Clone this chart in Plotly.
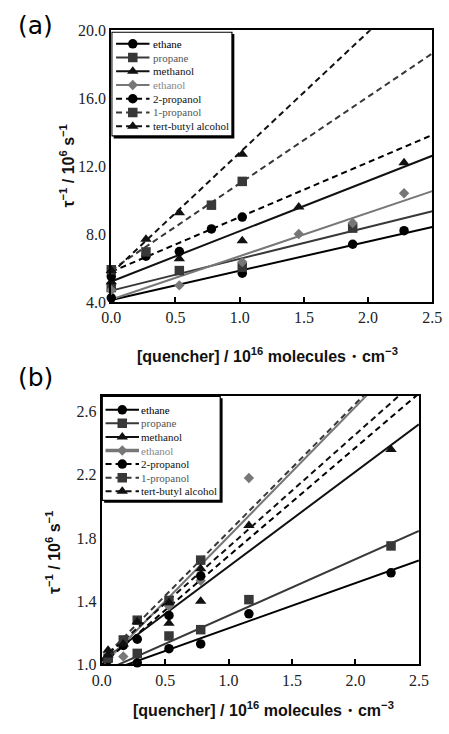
import plotly.graph_objects as go

# ---------------- shared series info ----------------
series = ["ethane", "propane", "methanol", "ethanol", "2-propanol", "1-propanol", "tert-butyl alcohol"]
symbols = ["circle", "square", "triangle-up", "diamond", "circle", "square", "triangle-up"]
colors = ["#000000", "#383838", "#111111", "#777777", "#000000", "#383838", "#111111"]
text_colors = ["#000000", "#555555", "#111111", "#888888", "#111111", "#555555", "#111111"]
dashes = ["solid", "solid", "solid", "solid", "6px,4px", "6px,4px", "6px,4px"]
msizes = [9.5, 9.5, 10, 8, 9.5, 9.5, 10]

# ---------------- panel (a) data ----------------
a_x = [
    [0.0, 1.02, 1.88, 2.28],
    [0.0, 0.53, 1.02, 1.88],
    [0.0, 0.53, 1.02, 1.46, 2.28],
    [0.0, 0.53, 1.02, 1.46, 1.88, 2.28],
    [0.0, 0.27, 0.53, 0.78, 1.02],
    [0.0, 0.27, 0.78, 1.02],
    [0.0, 0.27, 0.53, 1.02],
]
a_y = [
    [4.25, 5.7, 7.4, 8.2],
    [4.85, 5.85, 6.05, 8.35],
    [5.2, 6.55, 7.6, 9.6, 12.2],
    [4.7, 4.98, 6.35, 8.0, 8.65, 10.4],
    [5.5, 6.7, 6.97, 8.3, 9.0],
    [5.9, 6.95, 9.7, 11.1],
    [5.85, 7.7, 9.25, 12.7],
]
a_intercept = [4.12, 4.67, 5.21, 4.15, 5.78, 5.88, 5.69]
a_slope = [1.72, 1.87, 2.96, 2.55, 3.22, 5.10, 7.10]

# ---------------- panel (b) data ----------------
b_x = [
    [0.28, 0.53, 0.78, 1.16, 2.28],
    [0.28, 0.53, 0.78, 1.16, 2.28],
    [0.05, 0.53, 0.78, 2.28],
    [0.05, 0.17, 0.53, 0.78, 1.16],
    [0.05, 0.17, 0.28, 0.53, 0.78],
    [0.05, 0.17, 0.28, 0.53, 0.78],
    [0.05, 0.17, 0.28, 0.53, 0.78, 1.16],
]
b_y = [
    [1.01, 1.10, 1.13, 1.32, 1.58],
    [1.07, 1.18, 1.22, 1.41, 1.75],
    [1.09, 1.26, 1.40, 2.36],
    [1.02, 1.05, 1.37, 1.53, 2.18],
    [1.03, 1.12, 1.16, 1.31, 1.56],
    [1.04, 1.155, 1.28, 1.405, 1.66],
    [1.06, 1.13, 1.27, 1.39, 1.605, 1.88],
]
b_intercept = [0.942, 0.952, 1.02, 0.99, 1.0, 1.03, 1.03]
b_slope = [0.2866, 0.357, 0.60, 0.82, 0.686, 0.81, 0.713]

x_range = [0.0, 2.5]
a_yrange = [4.0, 20.0]
b_yrange = [1.0, 2.7]

W, H = 449, 734

def px_x(p):
    return p / W

def px_y(p):
    return 1 - p / H

fig = go.Figure()

def add_panel(xs, ys, icpt, slope, xa, ya):
    # fitted lines first
    for i in range(len(series)):
        fig.add_trace(go.Scatter(
            x=[x_range[0], x_range[1]],
            y=[icpt[i] + slope[i] * x_range[0], icpt[i] + slope[i] * x_range[1]],
            mode="lines", line=dict(color=colors[i], width=2, dash=dashes[i]),
            xaxis=xa, yaxis=ya, showlegend=False, hoverinfo="skip"))
    for i in range(len(series)):
        fig.add_trace(go.Scatter(
            x=xs[i], y=ys[i], mode="markers",
            marker=dict(symbol=symbols[i], size=msizes[i], color=colors[i], line=dict(width=0)),
            xaxis=xa, yaxis=ya, showlegend=False, name=series[i], cliponaxis=False))

add_panel(a_x, a_y, a_intercept, a_slope, "x", "y")
add_panel(b_x, b_y, b_intercept, b_slope, "x2", "y2")

# ---------------- custom legends (on helper axes measured in px) ----------------
def add_legend(xa, ya, box_w, box_h, row0, step, lx0, lx1, tx, thick_ethanol):
    fig.add_shape(type="rect", xref=xa, yref=ya, x0=2.5, x1=box_w + 2.5, y0=2.5, y1=box_h + 2.5,
                  fillcolor="#000000", line=dict(width=0), layer="below")
    fig.add_shape(type="rect", xref=xa, yref=ya, x0=0.6, x1=box_w, y0=0.6, y1=box_h,
                  fillcolor="#ffffff", line=dict(color="#000000", width=1.2), layer="below")
    for i in range(len(series)):
        yy = row0 + i * step
        lw = 3.5 if (thick_ethanol and series[i] == "ethanol") else 2
        fig.add_trace(go.Scatter(
            x=[lx0, lx1], y=[yy, yy], mode="lines",
            line=dict(color=colors[i], width=lw, dash=dashes[i]),
            xaxis=xa, yaxis=ya, showlegend=False, hoverinfo="skip"))
        fig.add_trace(go.Scatter(
            x=[(lx0 + lx1) / 2], y=[yy], mode="markers",
            marker=dict(symbol=symbols[i], size=msizes[i], color=colors[i], line=dict(width=0)),
            xaxis=xa, yaxis=ya, showlegend=False, hoverinfo="skip"))
        fig.add_annotation(x=tx, y=yy, xref=xa, yref=ya, text=series[i], showarrow=False,
                           xanchor="left", yanchor="middle",
                           font=dict(family="Liberation Serif, Times New Roman, serif", size=11,
                                     color=text_colors[i]))

add_legend("x3", "y3", 126.3, 107, 12.7, 14.05, 5, 40, 42, False)
add_legend("x4", "y4", 124, 107, 14.3, 13.9, 4, 39, 39.5, True)

tickfont = dict(family="Liberation Serif, Times New Roman, serif", size=16, color="#222222")
common_x = dict(range=x_range, dtick=0.5, tick0=0, tickformat=".1f", showline=True, mirror=True,
                linecolor="#000000", linewidth=2, ticks="inside", ticklen=5, tickwidth=1.5,
                tickcolor="#000000", showgrid=False, zeroline=False, tickfont=tickfont)
common_y = dict(showline=True, mirror=True, linecolor="#000000", linewidth=2, ticks="",
                showgrid=False, zeroline=False, tickfont=tickfont, tickformat=".1f")

fig.update_layout(
    width=W, height=H, margin=dict(l=0, r=0, t=0, b=0),
    paper_bgcolor="#ffffff", plot_bgcolor="rgba(0,0,0,0)",
    showlegend=False,
    xaxis=dict(domain=[px_x(106), px_x(442)], anchor="y", **common_x),
    yaxis=dict(domain=[px_y(301), px_y(22.7)], anchor="x", range=a_yrange, dtick=4, tick0=4, **common_y),
    xaxis2=dict(domain=[px_x(96), px_x(428)], anchor="y2", **common_x),
    yaxis2=dict(domain=[px_y(672), px_y(397)], anchor="x2", range=b_yrange, dtick=0.4, tick0=1.0, **common_y),
    xaxis3=dict(domain=[px_x(106), px_x(106 + 130)], anchor="y3", range=[0, 130], visible=False, fixedrange=True),
    yaxis3=dict(domain=[px_y(24 + 111), px_y(24)], anchor="x3", range=[111, 0], visible=False, fixedrange=True),
    xaxis4=dict(domain=[px_x(96), px_x(96 + 128)], anchor="y4", range=[0, 128], visible=False, fixedrange=True),
    yaxis4=dict(domain=[px_y(397 + 111), px_y(397)], anchor="x4", range=[111, 0], visible=False, fixedrange=True),
)

title_font = dict(family="Liberation Sans", size=16, color="#111111", weight="bold")
xtitle = "[quencher] / 10<sup>16</sup> molecules・cm<sup>−3</sup>"
ytitle = "τ<sup>−1</sup> / 10<sup>6</sup> s<sup>−1</sup>"

for (xc, yc, txt, ang) in [(270, 355, xtitle, 0), (60, 162, ytitle, -90),
                           (265, 718, xtitle, 0), (45, 557, ytitle, -90)]:
    fig.add_annotation(x=px_x(xc), y=px_y(yc), xref="paper", yref="paper", text=txt, showarrow=False,
                       xanchor="center", yanchor="middle", textangle=ang, font=title_font)

for (xc, yc, txt) in [(6, 18, "(a)"), (6, 378, "(b)")]:
    fig.add_annotation(x=px_x(xc), y=px_y(yc), xref="paper", yref="paper", text=txt, showarrow=False,
                       xanchor="left", yanchor="middle",
                       font=dict(family="DejaVu Sans", size=25, color="#000000"))

fig.write_html("out.html", config={"displayModeBar": False},
               post_script="document.body.style.margin='0';document.body.style.padding='0';")
